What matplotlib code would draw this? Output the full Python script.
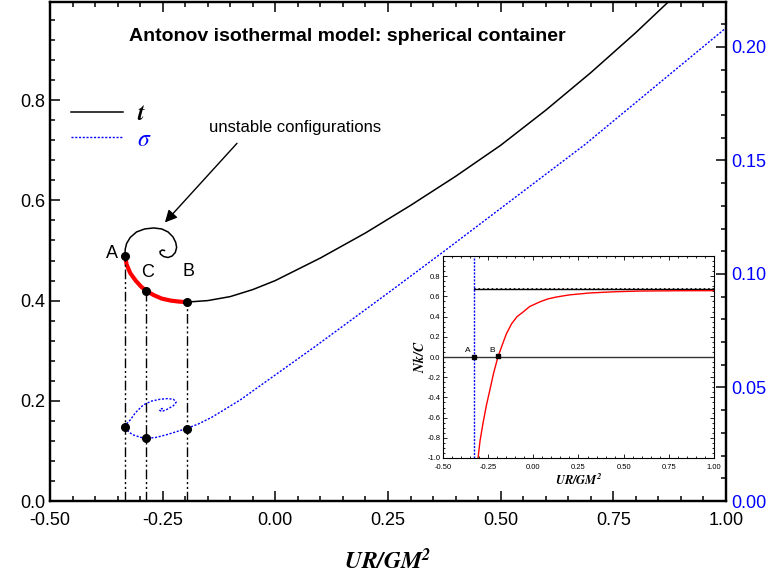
import numpy as np
import matplotlib
matplotlib.use('Agg')
import matplotlib.pyplot as plt
from matplotlib.ticker import MultipleLocator, FormatStrFormatter
from matplotlib.lines import Line2D

plt.rcParams['font.family'] = ['Liberation Sans', 'DejaVu Sans']
plt.rcParams['mathtext.fontset'] = 'stix'

# t(UR/GM^2): stable branch (B -> high energy)
t_branch_x = [-0.197, -0.15, -0.10, -0.05, 0.0, 0.1, 0.2, 0.3, 0.4, 0.5, 0.6, 0.7, 0.8, 0.9, 0.95]
t_branch_y = [0.397, 0.400, 0.408, 0.422, 0.440, 0.485, 0.535, 0.590, 0.648, 0.710, 0.780, 0.855, 0.935, 1.020, 1.060]
# metastable arc A -> C -> B (red)
t_arc_x = [-0.3336, -0.330, -0.322, -0.310, -0.298, -0.287, -0.270, -0.252, -0.232, -0.214, -0.197]
t_arc_y = [0.490, 0.472, 0.455, 0.440, 0.428, 0.420, 0.411, 0.404, 0.400, 0.398, 0.397]
# unstable spiral beyond A
t_spiral_x = [-0.3336, -0.333, -0.330, -0.322, -0.308, -0.290, -0.270, -0.252, -0.238, -0.227,
              -0.221, -0.219, -0.222, -0.229, -0.238, -0.248, -0.255, -0.256, -0.251, -0.246]
t_spiral_y = [0.490, 0.503, 0.514, 0.526, 0.537, 0.543, 0.545, 0.543, 0.537, 0.527,
              0.516, 0.506, 0.496, 0.489, 0.486, 0.488, 0.493, 0.498, 0.501, 0.500]

# sigma (right axis)
s_main_x = [-0.3336, -0.325, -0.315, -0.300, -0.287, -0.265, -0.241, -0.220, -0.197, -0.170,
            -0.140, -0.078, 0.088, 0.254, 0.373, 0.687, 1.0]
s_main_y = [0.0325, 0.0303, 0.0291, 0.0281, 0.0276, 0.0280, 0.0292, 0.0305, 0.0319, 0.0340,
            0.0370, 0.0445, 0.0680, 0.0922, 0.1098, 0.1570, 0.2084]
s_spiral_x = [-0.3336, -0.330, -0.322, -0.310, -0.293, -0.275, -0.256, -0.240, -0.226, -0.220,
              -0.226, -0.240, -0.252, -0.257, -0.252, -0.246]
s_spiral_y = [0.0325, 0.0340, 0.0357, 0.0390, 0.0423, 0.0440, 0.0448, 0.0451, 0.0448, 0.0435,
              0.0420, 0.0404, 0.0394, 0.0400, 0.0407, 0.0407]

# marked points A, C, B
pt_names = ['A', 'C', 'B']
pt_x = [-0.3336, -0.287, -0.197]
pt_t = [0.490, 0.420, 0.397]
pt_s = [0.0325, 0.0276, 0.0319]

# inset: Nk/C
in_red_x = [-0.306, -0.295, -0.279, -0.260, -0.241, -0.220, -0.196, -0.170, -0.149, -0.120,
            -0.090, -0.057, -0.020, 0.035, 0.080, 0.128, 0.200, 0.312, 0.450, 0.589, 0.800, 1.0]
in_red_y = [-1.0, -0.83, -0.66, -0.48, -0.33, -0.16, 0.0, 0.13, 0.23, 0.33,
            0.40, 0.445, 0.50, 0.545, 0.575, 0.594, 0.615, 0.634, 0.646, 0.653, 0.656, 0.657]
in_level = 0.670
in_xA, in_xB = -0.330, -0.196
in_yticks = [-1.0, -0.8, -0.6, -0.4, -0.2, 0.0, 0.2, 0.4, 0.6, 0.8]

fig = plt.figure(figsize=(7.83, 5.81), dpi=100)
ax = fig.add_axes([50/783, 80/581, 676/783, 499/581])
ax2 = ax.twinx()

ax.plot(t_branch_x, t_branch_y, color='black', lw=1.1)
ax.plot(t_spiral_x, t_spiral_y, color='black', lw=1.1)
ax.plot(t_arc_x, t_arc_y, color='red', lw=3)
for x, t in zip(pt_x, pt_t):
    ax.plot([x, x], [0, t], color='black', lw=1, linestyle=(0, (7, 2, 1.5, 2, 1.5, 2)))
ax.plot(pt_x, pt_t, 'o', color='black', ms=5.5)
offs = {'A': (-9.5, 1.5), 'C': (1, 13), 'B': (1.5, 22)}
for n, x, t in zip(pt_names, pt_x, pt_t):
    ax.annotate(n, (x, t), xytext=offs[n], textcoords='offset points', fontsize=13, ha='center', va='center')

ax2.plot(s_main_x, s_main_y, color='blue', lw=1, linestyle=(0, (1.5, 1.2)))
ax2.plot(s_spiral_x, s_spiral_y, color='blue', lw=1, linestyle=(0, (1.5, 1.2)))
ax2.plot(pt_x, pt_s, 'o', color='black', ms=5.5)

ax.set_xlim(-0.5, 1.0)
ax.set_ylim(0, 0.996)
ax2.set_ylim(0, 0.2198)

ax.xaxis.set_major_locator(MultipleLocator(0.25))
ax.xaxis.set_minor_locator(MultipleLocator(0.05))
ax.xaxis.set_major_formatter(FormatStrFormatter('%.2f'))
ax.yaxis.set_major_locator(MultipleLocator(0.2))
ax.yaxis.set_minor_locator(MultipleLocator(0.04))
ax.yaxis.set_major_formatter(FormatStrFormatter('%.1f'))
ax2.yaxis.set_major_locator(MultipleLocator(0.05))
ax2.yaxis.set_minor_locator(MultipleLocator(0.01))
ax2.yaxis.set_major_formatter(FormatStrFormatter('%.2f'))

ax.tick_params(which='both', direction='in', top=True, right=False, labelsize=13, width=1.1)
ax.tick_params(which='major', length=7)
ax.tick_params(which='minor', length=3.5)
ax.tick_params(axis='x', pad=8)
ax2.tick_params(which='both', direction='in', labelsize=13, labelcolor='blue', width=1.1)
ax2.tick_params(which='major', length=7)
ax2.tick_params(which='minor', length=3.5)
for a in (ax, ax2):
    for s in a.spines.values():
        s.set_linewidth(1.6)

ax.set_xlabel(r'$\mathbfit{UR/GM}^{\mathbfit{2}}$', fontsize=17, labelpad=14)

ax.text(0.44, 0.93, 'Antonov isothermal model: spherical container', transform=ax.transAxes,
        ha='center', va='center', fontsize=14, fontweight='bold',
        family=['Liberation Sans Narrow', 'Liberation Sans'])

ax.text(0.044, 0.745, 'unstable configurations', fontsize=12, ha='center', va='center')
ax.annotate('', xy=(-0.245, 0.556), xytext=(-0.085, 0.714),
            arrowprops=dict(arrowstyle='-|>', color='black', lw=1, mutation_scale=18,
                            shrinkA=0, shrinkB=0))

handles = [Line2D([], [], color='black', lw=1.1),
           Line2D([], [], color='blue', lw=1, linestyle=(0, (1.5, 1.2)))]
leg = ax.legend(handles, [r'$\mathbfit{t}$', r'$\mathit{\sigma}$'], loc='upper left',
                bbox_to_anchor=(0.0, 0.84), frameon=False, fontsize=17, handlelength=2.2,
                handletextpad=0.6, labelspacing=0.15)
leg.get_texts()[1].set_color('blue')

# inset
axi = fig.add_axes([443/783, 123/581, 271/783, 202/581])
axi.axhline(0, color='#333333', lw=1)
axi.plot([in_xA, 1.0], [in_level, in_level], color='black', lw=1)
axi.plot([in_xA, 1.0], [in_level, in_level], color='black', lw=1.2, linestyle=':')
axi.axvline(in_xA, color='blue', lw=1, linestyle=(0, (1.5, 1)))
axi.plot(in_red_x, in_red_y, color='red', lw=1)
axi.plot([in_xA, in_xB], [0, 0.01], 's', color='black', ms=2.5)
axi.text(in_xA - 0.015, 0.03, 'A', fontsize=6, ha='right', va='bottom')
axi.text(in_xB - 0.015, 0.03, 'B', fontsize=6, ha='right', va='bottom')
axi.set_xlim(-0.5, 1.0)
axi.set_ylim(-1.0, 1.0)
axi.xaxis.set_major_locator(MultipleLocator(0.25))
axi.xaxis.set_minor_locator(MultipleLocator(0.05))
axi.xaxis.set_major_formatter(FormatStrFormatter('%.2f'))
axi.yaxis.set_minor_locator(MultipleLocator(0.05))
axi.set_yticks(in_yticks)
axi.set_yticklabels(['%.1f' % v for v in in_yticks])
axi.tick_params(which='both', direction='in', top=True, right=True, labelsize=5.5, width=0.6, pad=2)
axi.tick_params(axis='x', pad=4)
axi.tick_params(which='major', length=3)
axi.tick_params(which='minor', length=1.5)
for s in axi.spines.values():
    s.set_linewidth(0.8)
axi.set_xlabel(r'$\mathbfit{UR/GM}^{\mathbfit{2}}$', fontsize=9, labelpad=2)
axi.set_ylabel(r'$\mathbfit{Nk/C}$', fontsize=10, labelpad=0)

fig.savefig('out.png', dpi=100)
